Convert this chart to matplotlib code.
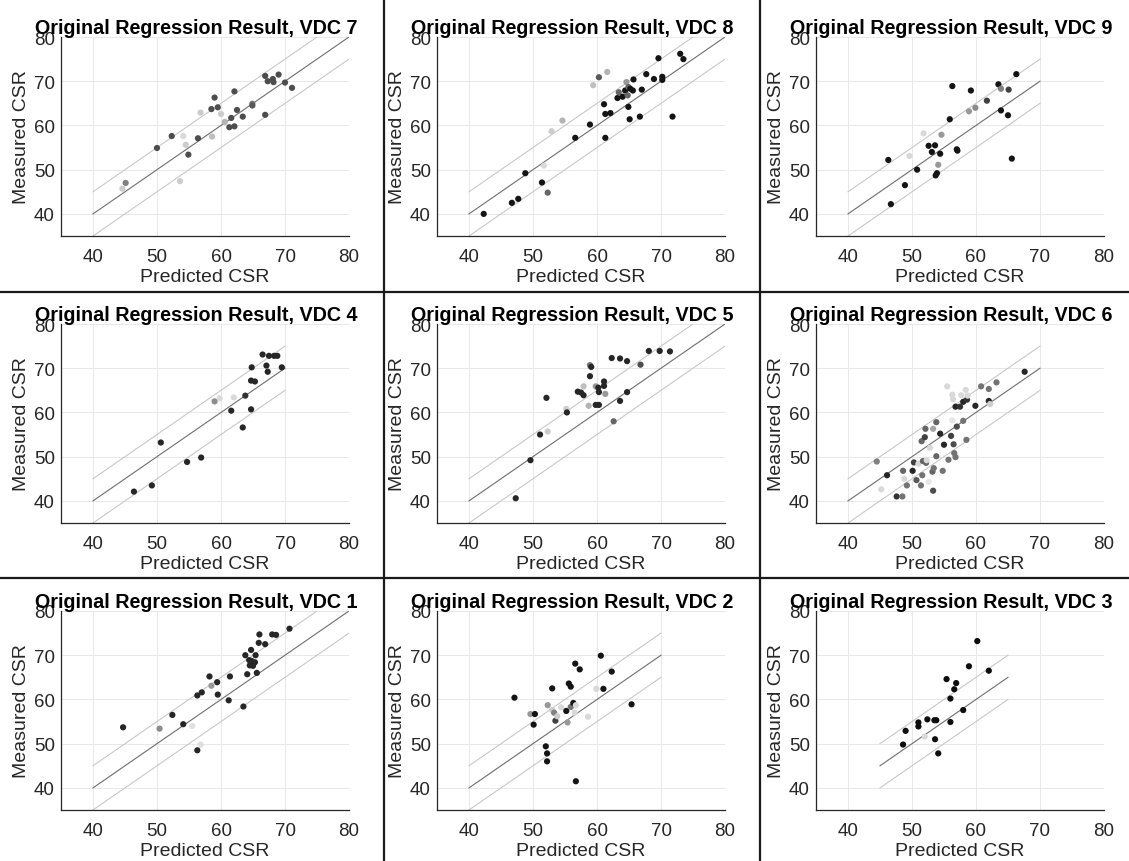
import numpy as np
import matplotlib
matplotlib.use("Agg")
import matplotlib.pyplot as plt
from matplotlib.lines import Line2D

plt.rcParams['font.family'] = ['Liberation Sans', 'DejaVu Sans']

# ---- data (predicted, measured, gray level of the marker) ----
vdc7_pred = [44.6, 45.1, 50.0, 52.3, 54.1, 54.5, 54.9, 53.6, 56.4, 56.8, 58.5, 58.6, 59.0, 59.5,
             60.0, 60.6, 61.3, 61.6, 62.1, 62.1, 62.5, 63.4, 64.9, 64.9, 66.9, 66.9, 67.3, 68.1,
             68.2, 69.0, 70.0, 71.1]
vdc7_meas = [45.7, 47.0, 54.9, 57.6, 57.6, 55.6, 53.4, 47.4, 57.1, 62.9, 63.7, 57.5, 66.3, 64.1,
             62.6, 60.8, 59.6, 61.7, 59.8, 67.7, 63.5, 62.0, 64.9, 64.5, 62.4, 71.2, 70.0, 70.5,
             69.8, 71.5, 69.7, 68.5]
vdc7_gray = [0.8, 0.5, 0.3, 0.3, 0.85, 0.8, 0.3, 0.8, 0.3, 0.8, 0.3, 0.75, 0.3, 0.3,
             0.8, 0.7, 0.3, 0.3, 0.3, 0.3, 0.3, 0.3, 0.45, 0.35, 0.3, 0.3, 0.3, 0.3,
             0.3, 0.3, 0.3, 0.3]

vdc8_pred = [42.3, 46.7, 47.7, 48.8, 51.4, 51.7, 52.3, 52.9, 54.6, 56.6, 58.9, 59.4, 60.3, 61.6,
             61.1, 61.3, 62.1, 61.3, 63.2, 63.4, 64.0, 64.4, 64.6, 64.9, 64.8, 64.9, 65.2, 65.6,
             65.1, 65.7, 66.7, 67.0, 67.7, 68.9, 69.6, 70.2, 70.2, 71.8, 73.0, 73.5]
vdc8_meas = [40.0, 42.5, 43.4, 49.2, 47.1, 50.9, 44.8, 58.7, 61.1, 57.2, 60.2, 69.1, 70.9, 72.1,
             64.8, 62.6, 62.8, 57.2, 66.2, 67.5, 66.5, 67.9, 69.8, 68.7, 66.8, 64.2, 68.3, 67.9,
             61.4, 70.4, 62.0, 68.1, 71.6, 70.5, 75.2, 71.0, 70.3, 62.0, 76.2, 75.0]
vdc8_gray = [0.08, 0.08, 0.08, 0.08, 0.08, 0.85, 0.4, 0.8, 0.7, 0.08, 0.08, 0.75, 0.35, 0.7,
             0.08, 0.08, 0.08, 0.08, 0.08, 0.4, 0.08, 0.08, 0.6, 0.4, 0.4, 0.08, 0.08, 0.08,
             0.08, 0.08, 0.08, 0.08, 0.08, 0.08, 0.08, 0.08, 0.08, 0.08, 0.08, 0.08]

vdc9_pred = [46.3, 46.7, 48.9, 49.6, 50.8, 51.8, 52.6, 53.1, 53.6, 53.7, 53.9, 54.1, 54.4, 54.6,
             55.9, 56.3, 57.0, 57.1, 58.9, 59.2, 59.9, 61.7, 63.5, 63.9, 63.9, 65.0, 65.1, 65.6,
             66.3]
vdc9_meas = [52.2, 42.2, 46.5, 53.1, 50.0, 58.2, 55.4, 54.0, 55.5, 48.7, 49.2, 51.1, 53.6, 57.9,
             61.4, 68.9, 54.6, 54.3, 63.2, 67.9, 64.0, 65.6, 69.3, 68.3, 63.4, 62.3, 68.1, 52.5,
             71.6]
vdc9_gray = [0.08, 0.08, 0.08, 0.85, 0.08, 0.85, 0.08, 0.08, 0.08, 0.08, 0.08, 0.6, 0.08, 0.6,
             0.08, 0.08, 0.08, 0.08, 0.6, 0.08, 0.55, 0.25, 0.08, 0.5, 0.08, 0.08, 0.25, 0.08,
             0.08]

vdc4_pred = [46.4, 49.2, 50.6, 54.7, 56.9, 59.0, 59.8, 62.0, 61.6, 63.8, 63.4, 64.7, 64.7, 65.3,
             64.8, 66.5, 67.1, 67.3, 67.5, 68.3, 68.8, 69.5]
vdc4_meas = [42.1, 43.5, 53.2, 48.8, 49.8, 62.5, 63.2, 63.4, 60.4, 63.8, 56.6, 60.7, 67.2, 67.0,
             70.2, 73.1, 70.6, 69.2, 72.8, 72.8, 72.8, 70.2]
vdc4_gray = [0.15, 0.15, 0.15, 0.15, 0.15, 0.55, 0.85, 0.85, 0.15, 0.2, 0.15, 0.15, 0.15, 0.15,
             0.15, 0.15, 0.15, 0.15, 0.15, 0.15, 0.15, 0.15]

vdc5_pred = [47.3, 49.6, 51.1, 52.3, 52.1, 55.2, 55.3, 57.0, 57.5, 57.9, 57.9, 58.7, 58.9, 58.9,
             59.1, 59.8, 60.3, 59.8, 60.3, 60.2, 61.1, 61.1, 61.3, 62.3, 62.6, 63.6, 63.6, 64.7,
             64.7, 66.8, 68.1, 69.8, 71.4]
vdc5_meas = [40.6, 49.2, 55.0, 55.7, 63.3, 60.8, 60.0, 64.7, 64.5, 63.9, 65.9, 61.5, 70.7, 68.2,
             70.3, 61.7, 61.7, 65.9, 64.6, 65.6, 67.0, 66.0, 64.2, 72.3, 58.0, 72.2, 62.6, 64.6,
             71.6, 70.8, 73.9, 73.9, 73.8]
vdc5_gray = [0.15, 0.15, 0.15, 0.8, 0.15, 0.8, 0.15, 0.15, 0.15, 0.15, 0.75, 0.7, 0.45, 0.15,
             0.15, 0.15, 0.15, 0.6, 0.15, 0.15, 0.15, 0.15, 0.6, 0.15, 0.4, 0.15, 0.15, 0.15,
             0.15, 0.3, 0.15, 0.15, 0.15]

vdc6_pred = [44.5, 45.2, 46.1, 47.6, 48.5, 48.6, 48.8, 49.2, 50.1, 50.3, 50.7, 51.0, 51.4, 51.6,
             51.7, 52.2, 52.3, 51.5, 52.0, 52.1, 52.6, 52.8, 53.2, 53.4, 53.3, 53.3, 53.8, 53.8,
             54.4, 54.8, 55.0, 55.5, 55.7, 56.1, 56.3, 56.3, 56.4, 56.5, 56.6, 56.8, 56.8, 57.0,
             57.5, 57.7, 58.0, 58.0, 58.4, 58.5, 58.6, 58.7, 59.9, 60.8, 62.0, 62.0, 62.2, 63.2,
             67.6]
vdc6_meas = [48.9, 42.6, 45.8, 41.0, 41.0, 46.8, 45.0, 43.5, 46.8, 48.7, 44.7, 48.4, 43.5, 45.8,
             49.0, 48.6, 49.2, 53.5, 54.4, 56.3, 44.3, 52.0, 46.6, 47.4, 42.3, 56.3, 57.8, 50.1,
             55.2, 46.8, 52.7, 65.9, 49.3, 54.7, 58.2, 64.0, 63.0, 52.8, 50.8, 49.9, 61.3, 56.8,
             61.3, 63.9, 62.4, 58.1, 65.1, 53.8, 62.9, 63.8, 61.5, 65.9, 65.3, 62.6, 61.9, 66.8,
             69.2]
vdc6_gray = [0.5, 0.85, 0.15, 0.2, 0.45, 0.4, 0.85, 0.45, 0.15, 0.25, 0.35, 0.85, 0.45, 0.45,
             0.4, 0.4, 0.85, 0.4, 0.25, 0.4, 0.9, 0.85, 0.4, 0.45, 0.3, 0.65, 0.4, 0.4,
             0.15, 0.45, 0.15, 0.85, 0.45, 0.25, 0.9, 0.85, 0.85, 0.3, 0.45, 0.45, 0.15, 0.3,
             0.2, 0.85, 0.15, 0.45, 0.85, 0.45, 0.2, 0.85, 0.15, 0.45, 0.45, 0.15, 0.8, 0.45,
             0.15]

vdc1_pred = [44.7, 50.4, 52.4, 54.1, 55.5, 56.8, 56.3, 56.3, 57.0, 58.2, 58.5, 59.4, 59.5, 61.2,
             61.4, 63.5, 63.8, 64.1, 64.4, 64.5, 64.7, 64.8, 65.0, 65.3, 65.4, 65.6, 65.9, 66.0,
             66.9, 68.0, 68.6, 70.7]
vdc1_meas = [53.7, 53.4, 56.5, 54.4, 54.0, 49.8, 48.5, 60.9, 61.6, 65.2, 63.1, 63.9, 61.1, 59.8,
             65.2, 58.4, 70.0, 65.7, 68.9, 67.7, 71.2, 68.7, 67.6, 68.4, 70.0, 66.0, 72.8, 74.7,
             72.5, 74.7, 74.6, 76.0]
vdc1_gray = [0.15, 0.55, 0.15, 0.15, 0.88, 0.88, 0.15, 0.15, 0.15, 0.15, 0.6, 0.15, 0.15, 0.15,
             0.15, 0.15, 0.15, 0.15, 0.15, 0.15, 0.15, 0.15, 0.15, 0.15, 0.15, 0.15, 0.15, 0.15,
             0.15, 0.15, 0.15, 0.15]

vdc2_pred = [47.1, 49.6, 50.1, 50.3, 52.3, 52.0, 52.2, 52.2, 53.0, 53.0, 53.3, 53.5, 53.8, 54.4,
             55.2, 55.4, 55.6, 55.9, 55.9, 56.3, 56.5, 56.7, 56.6, 56.7, 57.3, 58.6, 59.9, 60.6,
             61.0, 62.3, 65.4]
vdc2_meas = [60.4, 56.7, 54.3, 56.7, 58.7, 49.4, 47.8, 46.0, 62.5, 57.6, 57.0, 55.2, 56.2, 58.2,
             57.4, 54.8, 63.6, 62.9, 58.3, 59.2, 57.0, 58.7, 68.1, 41.5, 66.8, 56.1, 62.4, 69.9,
             62.4, 66.3, 58.9]
vdc2_gray = [0.08, 0.6, 0.08, 0.08, 0.6, 0.08, 0.08, 0.08, 0.08, 0.8, 0.5, 0.25, 0.8, 0.85,
             0.08, 0.6, 0.08, 0.08, 0.45, 0.08, 0.85, 0.85, 0.08, 0.08, 0.08, 0.85, 0.85, 0.08,
             0.08, 0.08, 0.08]

vdc3_pred = [48.6, 49.0, 51.0, 51.0, 52.4, 52.0, 53.5, 53.8, 53.6, 54.1, 55.4, 56.0, 56.0, 56.6,
             56.9, 58.0, 58.9, 60.2, 62.0]
vdc3_meas = [49.8, 52.9, 54.8, 53.9, 55.5, 51.6, 55.3, 55.3, 51.0, 47.8, 64.6, 60.2, 54.9, 62.3,
             63.7, 57.6, 67.5, 73.2, 66.5]
vdc3_gray = [0.05, 0.05, 0.05, 0.05, 0.05, 0.85, 0.05, 0.05, 0.05, 0.05, 0.05, 0.05, 0.05, 0.05,
             0.05, 0.05, 0.05, 0.05, 0.05]

# reference line range (min, max) of each panel
vdc_ranges = {7: (40, 80), 8: (40, 80), 9: (40, 70),
              4: (40, 70), 5: (40, 80), 6: (40, 70),
              1: (40, 80), 2: (40, 70), 3: (45, 65)}
band = 5
ticks = [40, 50, 60, 70, 80]

panels = {
    7: (vdc7_pred, vdc7_meas, vdc7_gray), 8: (vdc8_pred, vdc8_meas, vdc8_gray),
    9: (vdc9_pred, vdc9_meas, vdc9_gray), 4: (vdc4_pred, vdc4_meas, vdc4_gray),
    5: (vdc5_pred, vdc5_meas, vdc5_gray), 6: (vdc6_pred, vdc6_meas, vdc6_gray),
    1: (vdc1_pred, vdc1_meas, vdc1_gray), 2: (vdc2_pred, vdc2_meas, vdc2_gray),
    3: (vdc3_pred, vdc3_meas, vdc3_gray),
}
layout = [[7, 8, 9], [4, 5, 6], [1, 2, 3]]

W, H = 1129, 862
fig = plt.figure(figsize=(W / 100, H / 100), dpi=100)
fig.patch.set_facecolor('white')

col_left = [61, 437, 816]
row_top = [38, 325, 612]
ax_w, ax_h = 288, 199
tick_col = '#262626'

for r, row in enumerate(layout):
    for c, vdc in enumerate(row):
        l, t = col_left[c], row_top[r]
        ax = fig.add_axes([l / W, 1 - (t + ax_h) / H, ax_w / W, ax_h / H])
        pred, meas, gray = panels[vdc]
        lo, hi = vdc_ranges[vdc]
        xs = np.array([lo, hi])
        ax.plot(xs, xs, color='#6e6e6e', lw=0.8, zorder=2)
        ax.plot(xs, xs + band, color='#c8c8c8', lw=0.8, zorder=2)
        ax.plot(xs, xs - band, color='#c8c8c8', lw=0.8, zorder=2)
        cols = [(g, g, g) for g in gray]
        ax.scatter(pred, meas, s=20, c=cols, edgecolors='none', zorder=3)
        ax.set_xlim(35, 80)
        ax.set_ylim(35, 80)
        ax.set_xticks(ticks)
        ax.set_yticks(ticks)
        ax.grid(True, color='#e8e8e8', lw=0.7)
        ax.set_axisbelow(True)
        for s in ['top', 'right']:
            ax.spines[s].set_visible(False)
        for s in ['left', 'bottom']:
            ax.spines[s].set_color(tick_col)
            ax.spines[s].set_linewidth(0.9)
        ax.tick_params(length=0, labelsize=13.5, colors=tick_col)
        ax.tick_params(axis='x', pad=9)
        ax.tick_params(axis='y', pad=4.5)
        ax.set_xlabel('Predicted CSR', fontsize=14, color=tick_col, labelpad=2)
        ax.set_ylabel('Measured CSR', fontsize=14, color=tick_col, labelpad=3)
        ax.set_title('Original Regression Result, VDC %d' % vdc, fontsize=14.2,
                     fontweight='bold', x=0.47, pad=1.5)

# panel dividers
for xv in [384, 760]:
    fig.add_artist(Line2D([xv / W, xv / W], [0, 1], color='#1a1a1a', lw=1.6))
for yv in [293, 579]:
    fig.add_artist(Line2D([0, 1], [1 - yv / H, 1 - yv / H], color='#1a1a1a', lw=1.6))

fig.savefig('out.png', dpi=100)
